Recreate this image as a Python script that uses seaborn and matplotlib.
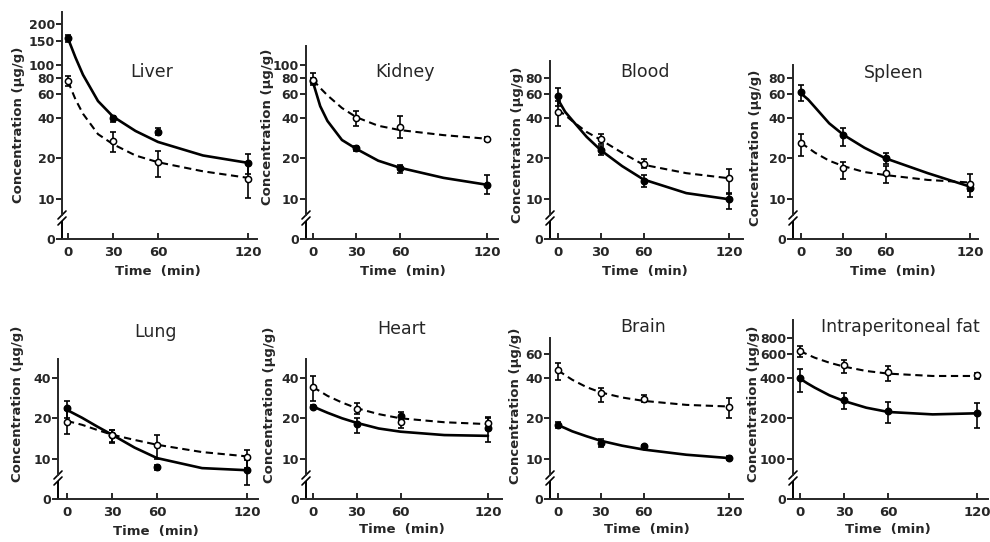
import matplotlib
matplotlib.use("Agg")
import matplotlib.pyplot as plt
import seaborn as sns
import numpy as np
import pandas as pd

sns.set_style("ticks")
plt.rcParams["font.family"] = ["DejaVu Sans"]
plt.rcParams["font.weight"] = "bold"

TIME = [0, 30, 60, 120]
FIT_TIME = [0, 5, 10, 20, 30, 45, 60, 90, 120]

# Liver
LIVER_F = [157, 39.7, 31.7, 18.5]
LIVER_F_LO = [148, 37.3, 29.7, 15.2]
LIVER_F_HI = [167, 41.6, 33.8, 21.4]
LIVER_O = [75, 27, 18.9, 14.1]
LIVER_O_LO = [69, 22.3, 14.5, 10.1]
LIVER_O_HI = [83, 31.2, 22.7, 18.5]
LIVER_F_FIT = [157, 113, 84, 53.5, 41, 32, 26.5, 21, 18.5]
LIVER_O_FIT = [75, 55, 43, 30.3, 25.5, 21, 18.7, 16, 14.3]

# Kidney
KIDNEY_F = [76, 23.7, 16.8, 12.7]
KIDNEY_F_LO = [73, 22.7, 15.6, 10.8]
KIDNEY_F_HI = [79, 24.7, 17.8, 14.9]
KIDNEY_O = [77.3, 40, 34.2, 28]
KIDNEY_O_LO = [70, 34.7, 28.4, 27]
KIDNEY_O_HI = [86, 45.4, 41.3, 29]
KIDNEY_F_FIT = [74, 49, 38, 27.4, 23.5, 19.2, 17, 14.3, 12.7]
KIDNEY_O_FIT = [77, 67, 59, 47.5, 40.5, 35, 32.5, 29.8, 28]

# Blood
BLOOD_F = [58.4, 23.1, 13.5, 9.9]
BLOOD_F_LO = [49, 21, 12.2, 8.4]
BLOOD_F_HI = [67.5, 24.7, 14.9, 11]
BLOOD_O = [44.3, 27.7, 18, 14.2]
BLOOD_O_LO = [34.8, 25.4, 16.8, 10.9]
BLOOD_O_HI = [53.5, 30.6, 19.6, 16.7]
BLOOD_F_FIT = [55, 44.5, 38.5, 29, 23, 17.5, 13.9, 11, 9.9]
BLOOD_O_FIT = [46, 42, 38, 31.5, 27.5, 22, 17.9, 15.5, 14.2]

# Spleen
SPLEEN_F = [62, 29.7, 20, 12.1]
SPLEEN_F_LO = [54, 24.7, 18, 11.4]
SPLEEN_F_HI = [70, 33.5, 22.1, 12.8]
SPLEEN_O = [25.9, 16.8, 15.5, 12.9]
SPLEEN_O_LO = [20.8, 13.9, 13.2, 10.3]
SPLEEN_O_HI = [30.2, 18.9, 17.6, 15.2]
SPLEEN_F_FIT = [61, 55, 48, 36.5, 30, 24, 20, 15.5, 12.3]
SPLEEN_O_FIT = [26, 24, 22, 19.2, 17.5, 15.8, 15, 13.8, 13.2]

# Lung
LUNG_F = [23.7, 15.1, 8.6, 8.2]
LUNG_F_LO = [20, 13.1, 8.3, 6.35]
LUNG_F_HI = [26.9, 16.4, 8.9, 9.8]
LUNG_O = [18.9, 15.1, 12.6, 10.3]
LUNG_O_LO = [15.3, 13.4, 10, 8.5]
LUNG_O_HI = [23.1, 16.4, 15.1, 11.7]
LUNG_F_FIT = [23.1, 21.6, 20.2, 17.4, 15.1, 12.1, 10.1, 8.5, 8.2]
LUNG_O_FIT = [19.1, 18.5, 17.9, 16.4, 15.1, 13.8, 12.7, 11.2, 10.4]

# Heart
HEART_F = [24.5, 18, 20.8, 16.8]
HEART_F_LO = [24, 15.6, 19.4, 13.4]
HEART_F_HI = [25, 20, 22.4, 20.6]
HEART_O = [34.2, 23.4, 18.9, 18.3]
HEART_O_LO = [27, 21.5, 16.8, 16.3]
HEART_O_HI = [41.1, 25.9, 20.6, 20]
HEART_F_FIT = [24.5, 23.2, 22, 20, 18.5, 16.8, 15.9, 15, 14.8]
HEART_O_FIT = [34.2, 31.7, 29.4, 26.2, 23.8, 21.5, 20, 18.7, 18.1]

# Brain
BRAIN_F = [17.8, 13.2, 12.4, 10.1]
BRAIN_F_LO = [16.8, 12.2, 12.1, 9.8]
BRAIN_F_HI = [18.9, 14.1, 12.7, 10.4]
BRAIN_O = [45.6, 30.8, 27.9, 24.5]
BRAIN_O_LO = [38.8, 26.3, 26.4, 20.2]
BRAIN_O_HI = [51.8, 33.6, 29.9, 28.6]
BRAIN_F_FIT = [17.8, 16.9, 16, 14.7, 13.6, 12.5, 11.7, 10.7, 10.1]
BRAIN_O_FIT = [45.6, 42, 38.8, 34.2, 31.2, 28.6, 27, 25.2, 24.5]

# Intraperitoneal fat
FAT_F = [402, 274, 227, 218]
FAT_F_LO = [312, 233, 184, 170]
FAT_F_HI = [464, 307, 265, 262]
FAT_O = [636, 497, 444, 419]
FAT_O_LO = [577, 438, 380, 391]
FAT_O_HI = [693, 546, 491, 438]
FAT_F_FIT = [396, 365, 339, 297, 269, 240, 223, 214, 218]
FAT_O_FIT = [636, 600, 567, 520, 486, 451, 431, 414, 414]

W, H = 990, 542

# name, data, y ticks, y value shown as "0", axes px box (l, t, r, b), xlim,
# title centre px, y-label centre px, x-label centre px
PANELS = [
    ("Liver", (LIVER_F, LIVER_F_LO, LIVER_F_HI, LIVER_O, LIVER_O_LO, LIVER_O_HI, LIVER_F_FIT, LIVER_O_FIT),
     [10, 20, 40, 60, 80, 100, 150, 200], 5, (62, 12, 257, 239), (-4, 126),
     (152, 72), (19, 125), (158, 271)),
    ("Kidney", (KIDNEY_F, KIDNEY_F_LO, KIDNEY_F_HI, KIDNEY_O, KIDNEY_O_LO, KIDNEY_O_HI, KIDNEY_F_FIT, KIDNEY_O_FIT),
     [10, 20, 40, 60, 80, 100], 5, (306, 46, 498, 239), (-4.8, 127.6),
     (405, 72), (267, 127), (403, 271)),
    ("Blood", (BLOOD_F, BLOOD_F_LO, BLOOD_F_HI, BLOOD_O, BLOOD_O_LO, BLOOD_O_HI, BLOOD_F_FIT, BLOOD_O_FIT),
     [10, 20, 40, 60, 80], 5, (550, 61, 743, 239), (-5.6, 129.8),
     (645, 72), (518, 145), (645, 271)),
    ("Spleen", (SPLEEN_F, SPLEEN_F_LO, SPLEEN_F_HI, SPLEEN_O, SPLEEN_O_LO, SPLEEN_O_HI, SPLEEN_F_FIT, SPLEEN_O_FIT),
     [10, 20, 40, 60, 80], 5, (793, 65, 978, 239), (-5.7, 125.7),
     (894, 73), (755, 148), (893, 271)),
    ("Lung", (LUNG_F, LUNG_F_LO, LUNG_F_HI, LUNG_O, LUNG_O_LO, LUNG_O_HI, LUNG_F_FIT, LUNG_O_FIT),
     [10, 20, 40], 5, (58, 359, 258, 499), (-6, 127.3),
     (155, 332), (18, 404), (156, 532)),
    ("Heart", (HEART_F, HEART_F_LO, HEART_F_HI, HEART_O, HEART_O_LO, HEART_O_HI, HEART_F_FIT, HEART_O_FIT),
     [10, 20, 40], 5, (306, 359, 502, 499), (-4.8, 129.6),
     (402, 329), (270, 405), (402, 530)),
    ("Brain", (BRAIN_F, BRAIN_F_LO, BRAIN_F_HI, BRAIN_O, BRAIN_O_LO, BRAIN_O_HI, BRAIN_F_FIT, BRAIN_O_FIT),
     [10, 20, 40, 60], 5, (550, 338, 743, 499), (-5.6, 129.8),
     (643, 327), (515, 406), (647, 529)),
    ("Intraperitoneal fat", (FAT_F, FAT_F_LO, FAT_F_HI, FAT_O, FAT_O_LO, FAT_O_HI, FAT_F_FIT, FAT_O_FIT),
     [100, 200, 400, 600, 800], 50, (793, 320, 988, 499), (-4.7, 127.5),
     (900, 327), (753, 404), (888, 529)),
]

PX_PER_DECADE = 134
LW = 1.4

fig = plt.figure(figsize=(W / 100, H / 100), dpi=100)

for name, data, ticks, zero, box, xlim, tpos, ypos, xpos in PANELS:
    f, f_lo, f_hi, o, o_lo, o_hi, f_fit, o_fit = data
    l, t, r, b = box
    ax = fig.add_axes([l / W, 1 - b / H, (r - l) / W, (b - t) / H])
    ax.set_yscale("log")
    top = zero * 10 ** ((b - t) / PX_PER_DECADE)

    fits = pd.DataFrame({"t": FIT_TIME, "filled": f_fit, "open": o_fit})
    sns.lineplot(data=fits, x="t", y="filled", ax=ax, color="black", lw=1.9)
    sns.lineplot(data=fits, x="t", y="open", ax=ax, color="black", lw=1.5,
                 dashes=False, linestyle=(0, (3.5, 2.2)))

    f = np.array(f); o = np.array(o)
    ax.errorbar(TIME, f, yerr=[f - np.array(f_lo), np.array(f_hi) - f], fmt="none",
                ecolor="black", elinewidth=1.2, capsize=2.5, capthick=1.2, zorder=3)
    ax.errorbar(TIME, o, yerr=[o - np.array(o_lo), np.array(o_hi) - o], fmt="none",
                ecolor="black", elinewidth=1.2, capsize=2.5, capthick=1.2, zorder=3)
    pts = pd.DataFrame({"t": TIME, "filled": f, "open": o})
    sns.scatterplot(data=pts, x="t", y="filled", ax=ax, s=22, color="black",
                    edgecolor="black", linewidth=1, zorder=4)
    sns.scatterplot(data=pts, x="t", y="open", ax=ax, s=20, color="white",
                    edgecolor="black", linewidth=1.1, zorder=4)

    ax.set_xlim(*xlim)
    ax.set_ylim(zero, top)
    ax.set_xticks([0, 30, 60, 120])
    ax.set_xticklabels(["0", "30", "60", "120"])
    ax.set_yticks([zero] + ticks)
    ax.set_yticklabels(["0"] + [str(v) for v in ticks])
    ax.yaxis.set_minor_locator(matplotlib.ticker.NullLocator())
    ax.tick_params(axis="y", direction="out", length=4, width=LW, labelsize=9, pad=1)
    ax.tick_params(axis="x", direction="in", length=4, width=LW, labelsize=9.5, pad=5)
    ax.set_xlabel("")
    ax.set_ylabel("")
    for s in ("top", "right"):
        ax.spines[s].set_visible(False)
    ax.spines["bottom"].set_linewidth(LW)

    # broken y axis between 0 and the first log tick
    brk = zero * 10 ** (21 / PX_PER_DECADE)
    gap = 3 / PX_PER_DECADE
    brk_lo = brk / 10 ** gap
    brk_hi = brk * 10 ** gap
    ax.spines["left"].set_linewidth(LW)
    ax.spines["left"].set_bounds(brk_hi, top)
    ax.plot([0, 0], [zero, brk_lo], transform=ax.get_yaxis_transform(),
            color="black", lw=LW, clip_on=False, solid_capstyle="butt")
    dx = 4 / (r - l)
    dy = 4 / (b - t)
    for yv in (brk_lo, brk_hi):
        yf = np.log10(yv / zero) / np.log10(top / zero)
        ax.plot([-dx, dx], [yf - dy, yf + dy], transform=ax.transAxes,
                color="black", lw=1.2, clip_on=False)

    fig.text(tpos[0] / W, 1 - tpos[1] / H, name, ha="center", va="center",
             fontsize=12.5, fontweight="normal")
    fig.text(ypos[0] / W, 1 - ypos[1] / H, "Concentration (µg/g)", rotation=90,
             ha="center", va="center", fontsize=9.5, fontweight="bold")
    fig.text(xpos[0] / W, 1 - xpos[1] / H, "Time  (min)", ha="center", va="center",
             fontsize=9.5, fontweight="bold")

fig.savefig("out.png", dpi=100)
plt.close(fig)
